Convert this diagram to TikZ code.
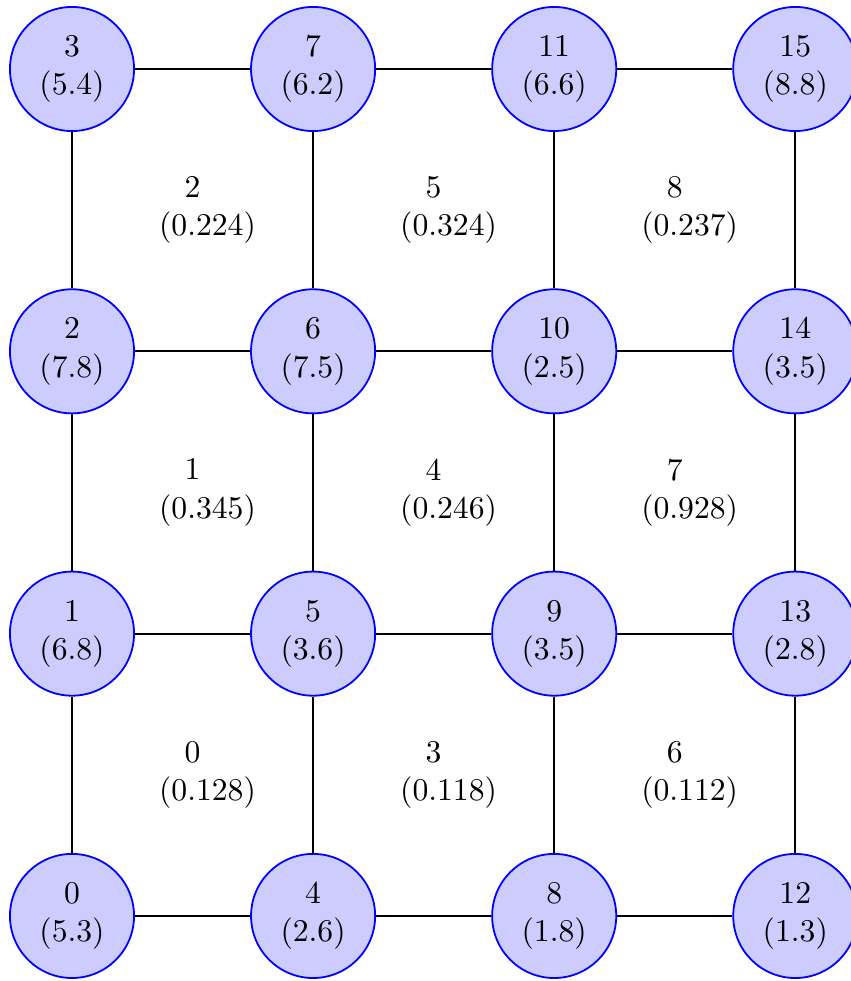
\documentclass[tikz,border=0pt]{standalone}
\usepackage{tikz}
\usetikzlibrary{positioning, calc}

\begin{document}
\begin{tikzpicture}[
        font=\fontsize{10.6}{12.8}\selectfont,
        vertex/.style={draw=blue, fill=blue!20, semithick, circle, minimum size=1.46cm, inner sep=0pt, align=center},
        cell/.style={align=center},
        edge/.style={black, semithick}
    ]
        \useasboundingbox (0,0) rectangle (10,11.54);

        % Vertices
        \node[vertex] (n0) at (0.847,0.765) {0\\(5.3)};
        \node[vertex, above=1.84cm of n0] (n1) {1\\(6.8)};
        \node[vertex, above=1.84cm of n1] (n2) {2\\(7.8)};
        \node[vertex, above=1.84cm of n2] (n3) {3\\(5.4)};
        \node[vertex, right=1.355cm of n0] (n4) {4\\(2.6)};
        \node[vertex, above=1.84cm of n4] (n5) {5\\(3.6)};
        \node[vertex, above=1.84cm of n5] (n6) {6\\(7.5)};
        \node[vertex, above=1.84cm of n6] (n7) {7\\(6.2)};
        \node[vertex, right=1.355cm of n4] (n8) {8\\(1.8)};
        \node[vertex, above=1.84cm of n8] (n9) {9\\(3.5)};
        \node[vertex, above=1.84cm of n9] (n10) {10\\(2.5)};
        \node[vertex, above=1.84cm of n10] (n11) {11\\(6.6)};
        \node[vertex, right=1.355cm of n8] (n12) {12\\(1.3)};
        \node[vertex, above=1.84cm of n12] (n13) {13\\(2.8)};
        \node[vertex, above=1.84cm of n13] (n14) {14\\(3.5)};
        \node[vertex, above=1.84cm of n14] (n15) {15\\(8.8)};

        % Cells
        \node[cell] (c0) at ($(n0)!0.5!(n5)$) {0\\\hspace*{10pt}(0.128)};
        \node[cell] (c1) at ($(n1)!0.5!(n6)$) {1\\\hspace*{10pt}(0.345)};
        \node[cell] (c2) at ($(n2)!0.5!(n7)$) {2\\\hspace*{10pt}(0.224)};
        \node[cell] (c3) at ($(n4)!0.5!(n9)$) {3\\\hspace*{10pt}(0.118)};
        \node[cell] (c4) at ($(n5)!0.5!(n10)$) {4\\\hspace*{10pt}(0.246)};
        \node[cell] (c5) at ($(n6)!0.5!(n11)$) {5\\\hspace*{10pt}(0.324)};
        \node[cell] (c6) at ($(n8)!0.5!(n13)$) {6\\\hspace*{10pt}(0.112)};
        \node[cell] (c7) at ($(n9)!0.5!(n14)$) {7\\\hspace*{10pt}(0.928)};
        \node[cell] (c8) at ($(n10)!0.5!(n15)$) {8\\\hspace*{10pt}(0.237)};

        % Edges
        \draw[edge] (n0) -- (n4) -- (n8) -- (n12);
        \draw[edge] (n1) -- (n5) -- (n9) -- (n13);
        \draw[edge] (n2) -- (n6) -- (n10) -- (n14);
        \draw[edge] (n3) -- (n7) -- (n11) -- (n15);
        \draw[edge] (n0) -- (n1) -- (n2) -- (n3);
        \draw[edge] (n4) -- (n5) -- (n6) -- (n7);
        \draw[edge] (n8) -- (n9) -- (n10) -- (n11);
        \draw[edge] (n12) -- (n13) -- (n14) -- (n15);
    \end{tikzpicture}
\end{document}
